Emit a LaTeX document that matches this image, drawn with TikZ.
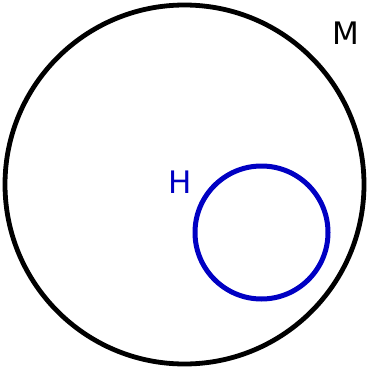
\documentclass[tikz,border=0pt]{standalone}
\usepackage{fontspec}
\setmainfont{DejaVu Sans}
\usepackage{xcolor}
\definecolor{myblue}{RGB}{0,0,195}
\tikzset{
  setring/.style={circle,draw=black,line width=4.8pt,inner sep=0pt},
  subring/.style={circle,draw=myblue,line width=5pt,inner sep=0pt},
  setlab/.style={font=\fontsize{31}{31}\selectfont,inner sep=0pt},
}
\begin{document}
\begin{tikzpicture}[x=1pt,y=-1pt]
  \useasboundingbox (0,0) rectangle (368,369);
  \node[setring,minimum size=359pt] (m) at (184.5,184.5) {};
  \node[subring,minimum size=133pt] (h) at (261.5,232.5) {};
  \node[setlab] (mlab) at (346,33) {M};
  \node[setlab,text=myblue] (hlab) at (180,182) {H};
\end{tikzpicture}
\end{document}
